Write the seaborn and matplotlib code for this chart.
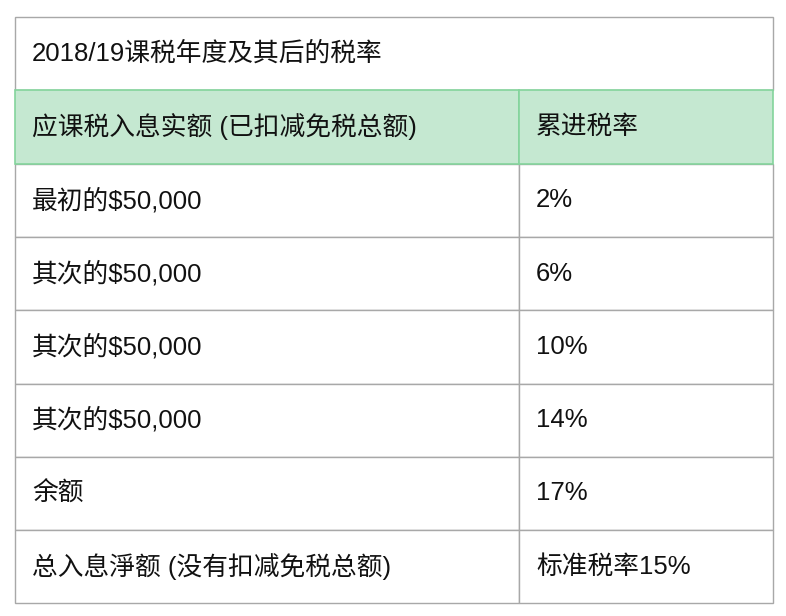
import matplotlib.pyplot as plt
import seaborn as sns
from matplotlib.patches import Rectangle

sns.set_style("white")
plt.rcParams['font.family'] = ['Liberation Sans', 'Noto Sans CJK SC', 'DejaVu Sans']

title = '2018/19课税年度及其后的税率'
header = ['应课税入息实额 (已扣减免税总额)', '累进税率']
bands = ['最初的$50,000', '其次的$50,000', '其次的$50,000', '其次的$50,000', '余额',
         '总入息淨额 (没有扣减免税总额)']
rates = ['2%', '6%', '10%', '14%', '17%', '标准税率15%']

fig = plt.figure(figsize=(7.86, 6.16), dpi=100)
ax = fig.add_axes([0, 0, 1, 1])
ax.set_xlim(0, 786)
ax.set_ylim(616, 0)
ax.axis('off')

left, right, mid = 15, 773, 519
top, rh = 17, 73.3
grey = '#a8a8a8'
green_fill = '#c5e8d1'
green_line = '#84d49c'
fs = 18.5

# title row
ax.add_patch(Rectangle((left, top), right - left, rh, fc='white', ec=grey, lw=1))
ax.text(left + 17, top + rh / 2, title, va='center', fontsize=fs, color='#111111')

# body rows
for i, (b, r) in enumerate(zip(bands, rates)):
    y = top + rh * (i + 2)
    ax.add_patch(Rectangle((left, y), mid - left, rh, fc='white', ec=grey, lw=1))
    ax.add_patch(Rectangle((mid, y), right - mid, rh, fc='white', ec=grey, lw=1))
    ax.text(left + 17, y + rh / 2, b, va='center', fontsize=fs, color='#111111')
    ax.text(mid + 17, y + rh / 2, r, va='center', fontsize=fs, color='#111111')

# header row
y = top + rh
ax.add_patch(Rectangle((left, y), mid - left, rh, fc=green_fill, ec=green_line, lw=1.2, zorder=3))
ax.add_patch(Rectangle((mid, y), right - mid, rh, fc=green_fill, ec=green_line, lw=1.2, zorder=3))
ax.text(left + 17, y + rh / 2, header[0], va='center', fontsize=fs, color='#111111', zorder=4)
ax.text(mid + 17, y + rh / 2, header[1], va='center', fontsize=fs, color='#111111', zorder=4)

fig.savefig('out.png', dpi=100)
